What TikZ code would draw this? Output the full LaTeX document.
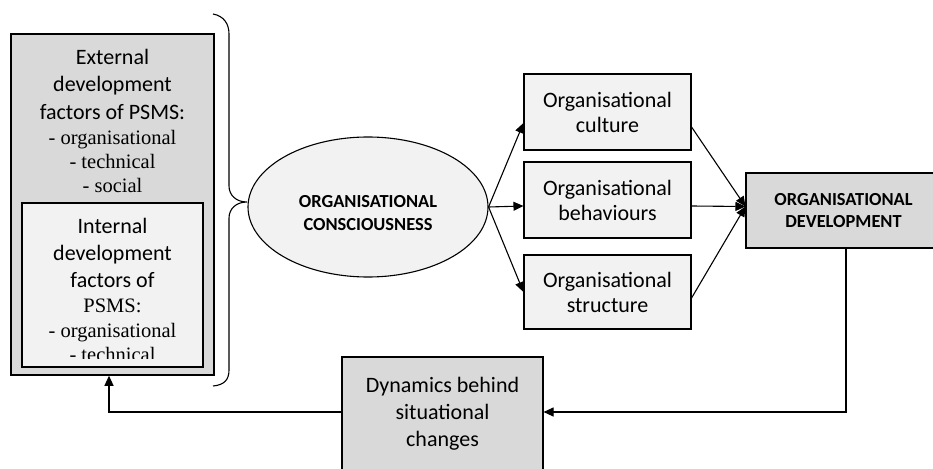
\documentclass[tikz,border=0pt]{standalone}
\usepackage{fontspec}
\setmainfont{Liberation Serif}
\setsansfont{Carlito}
\usetikzlibrary{shapes.geometric,arrows.meta}
\definecolor{boxgray}{HTML}{D9D9D9}
\definecolor{boxlight}{HTML}{F2F2F2}
\begin{document}
\begin{tikzpicture}[x=1pt,y=-1pt,line width=1.1pt,
		sanstxt/.style={anchor=base,inner sep=0,font=\sffamily\fontsize{22}{26}\selectfont},
		sertxt/.style={anchor=base,inner sep=0,font=\rmfamily\fontsize{20.5}{24}\selectfont},
		factorbox/.style={draw,fill=boxlight,minimum width=167,minimum height=76,inner sep=0,
			align=center,font=\sffamily\fontsize{22}{25}\selectfont},
		arr/.style={-{Triangle[length=10pt,width=9pt]}}]
	\useasboundingbox (0,0) rectangle (933,468);
	\clip (0,0) rectangle (933,468);
	\node[draw,fill=boxgray,line width=1.5pt,minimum width=203,minimum height=341] (ext) at (112.5,204.5) {};
	\node[draw,fill=boxlight,minimum width=181,minimum height=164] (int) at (112.5,285) {};
	\foreach \txt/\yy [count=\k] in {External/65,development/92,factors of PSMS:/119}
		\node[sanstxt] (ext\k) at (112.5,\yy) {\txt};
	\foreach \txt/\yy [count=\k] in {- organisational/144,- technical/168,- social/192}
		\node[sertxt] (extf\k) at (112.5,\yy) {\txt};
	\begin{scope}
		\clip (22,203) rectangle (203,358.5);
		\foreach \txt/\yy [count=\k] in {Internal/233,development/260,factors of/287}
			\node[sanstxt] (int\k) at (112.5,\yy) {\txt};
		\foreach \txt/\yy [count=\k] in {PSMS:/312,- organisational/337,- technical/361}
			\node[sertxt] (intf\k) at (112.5,\yy) {\txt};
	\end{scope}
	\draw (213,14) .. controls (224,16) and (229,24) .. (229,34) -- (229,186)
		.. controls (229,195) and (236,202) .. (247,202)
		.. controls (236,202) and (229,209) .. (229,218) -- (229,370)
		.. controls (229,380) and (224,385) .. (213,386);
	\node[ellipse,draw,fill=boxlight,minimum width=240,minimum height=140] (cons) at (368,207) {};
	\node[align=center,inner sep=0,font=\sffamily\bfseries\fontsize{18.4}{23}\selectfont] (consLbl) at (368,213) {ORGANISATIONAL\\CONSCIOUSNESS};
	\node[factorbox] (cult) at (607.5,112) {Organisational\\culture};
	\node[factorbox] (beh) at (607.5,200) {Organisational\\behaviours};
	\node[factorbox,minimum height=74] (stru) at (607.5,292) {Organisational\\structure};
	\node[draw,fill=boxgray,minimum width=195,minimum height=75,align=center,
		font=\sffamily\bfseries\fontsize{18.4}{22.5}\selectfont] (od) at (843.5,210.5) {ORGANISATIONAL\\DEVELOPMENT};
	\node[draw,fill=boxgray,minimum width=201,minimum height=114,align=center,
		font=\sffamily\fontsize{22}{27}\selectfont] (dyn) at (442.5,414) {Dynamics behind\\situational\\changes};
	\draw[arr] (cons.east) -- ([yshift=-11pt]cult.west);
	\draw[arr] (cons.east) -- ([yshift=-6pt]beh.west);
	\draw[arr] (cons.east) -- (stru.west);
	\draw[arr] ([yshift=-15pt]cult.east) -- ([yshift=4pt]od.west);
	\draw[arr] ([yshift=-6pt]beh.east) -- ([yshift=4pt]od.west);
	\draw[arr] ([yshift=-6pt]stru.east) -- ([yshift=4pt]od.west);
	\draw[arr] ([xshift=2.5pt]od.south) |- ([yshift=2pt]dyn.east);
	\draw[arr] ([yshift=2pt]dyn.west) -| ([xshift=-3.5pt]ext.south);
\end{tikzpicture}
\end{document}
